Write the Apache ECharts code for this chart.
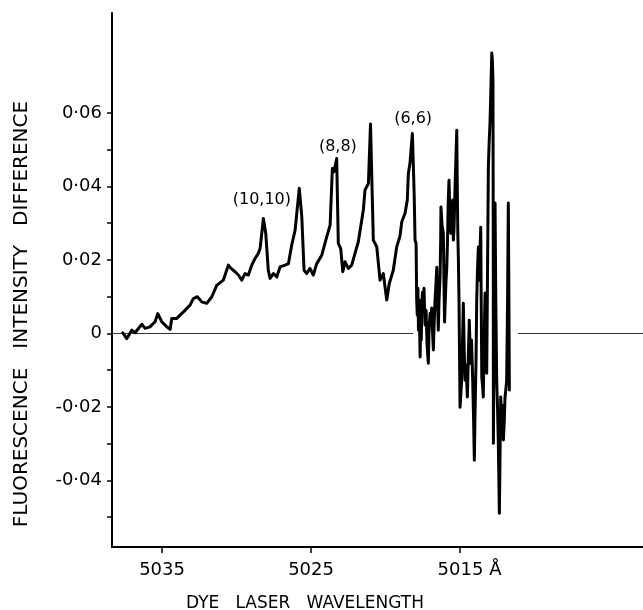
<!DOCTYPE html>
<html>
<head>
<meta charset="utf-8">
<script src="https://cdn.jsdelivr.net/npm/echarts@6/dist/echarts.min.js"></script>
<style>
html,body{margin:0;padding:0;background:#fff;}
#chart{width:643px;height:610px;}
</style>
</head>
<body>
<div id="chart"></div>
<script>
// Dye laser wavelength (Å) of each trace point
const wavelength = [
  5037.64, 5037.37, 5037.03, 5036.81, 5036.36, 5036.14, 5035.81, 5035.47, 5035.29, 5035.02,
  5034.68, 5034.46, 5034.35, 5034.01, 5033.79, 5033.46, 5033.12, 5032.90, 5032.63, 5032.34,
  5032.00, 5031.66, 5031.33, 5030.89, 5030.55, 5030.37, 5030.10, 5029.88, 5029.65, 5029.43,
  5029.21, 5028.98, 5028.76, 5028.54, 5028.42, 5028.20, 5028.04, 5027.87, 5027.75, 5027.53,
  5027.30, 5027.08, 5026.74, 5026.52, 5026.30, 5026.07, 5025.79, 5025.62, 5025.47, 5025.29,
  5025.07, 5024.85, 5024.62, 5024.28, 5023.95, 5023.72, 5023.57, 5023.46, 5023.28, 5023.17,
  5023.01, 5022.87, 5022.72, 5022.50, 5022.27, 5022.05, 5021.83, 5021.49, 5021.38, 5021.15,
  5021.01, 5020.82, 5020.59, 5020.37, 5020.15, 5019.92, 5019.75, 5019.48, 5019.25, 5019.03,
  5018.91, 5018.69, 5018.54, 5018.47, 5018.36, 5018.20, 5018.13, 5018.07, 5018.02, 5017.95,
  5017.91, 5017.87, 5017.83, 5017.79, 5017.74, 5017.68, 5017.64, 5017.60, 5017.57, 5017.52,
  5017.46, 5017.42, 5017.35, 5017.28, 5017.21, 5017.13, 5017.08, 5017.01, 5016.96, 5016.90,
  5016.85, 5016.79, 5016.74, 5016.68, 5016.62, 5016.56, 5016.51, 5016.46, 5016.41, 5016.34,
  5016.30, 5016.28, 5016.21, 5016.12, 5016.07, 5016.04, 5015.99, 5015.94, 5015.89, 5015.84,
  5015.79, 5015.74, 5015.68, 5015.62, 5015.57, 5015.49, 5015.45, 5015.40, 5015.34, 5015.28,
  5015.22, 5015.19, 5015.15, 5015.11, 5015.07, 5015.03, 5015.00, 5014.95, 5014.89, 5014.83,
  5014.78, 5014.72, 5014.66, 5014.60, 5014.51, 5014.44, 5014.38, 5014.33, 5014.28, 5014.23,
  5014.15, 5014.09, 5014.04, 5013.99, 5013.93, 5013.88, 5013.83, 5013.77, 5013.71, 5013.66,
  5013.61, 5013.58, 5013.54, 5013.49, 5013.44, 5013.38, 5013.32, 5013.27, 5013.21, 5013.17,
  5013.10, 5013.04, 5012.99, 5012.93, 5012.87, 5012.83, 5012.79, 5012.77, 5012.76, 5012.72,
  5012.65, 5012.60, 5012.54, 5012.48, 5012.43, 5012.36, 5012.32, 5012.27, 5012.21, 5012.16,
  5012.09, 5012.03, 5011.98, 5011.93, 5011.87, 5011.81, 5011.76, 5011.72, 5011.69
];
// Fluorescence intensity difference at each point
const intensity = [
  0.0002, -0.0014, 0.0009, 0.0002, 0.0025, 0.0014, 0.0018, 0.0032, 0.0054, 0.0032,
  0.0018, 0.0011, 0.0041, 0.0041, 0.0050, 0.0063, 0.0077, 0.0095, 0.0100, 0.0086,
  0.0082, 0.0100, 0.0131, 0.0145, 0.0186, 0.0177, 0.0168, 0.0159, 0.0145, 0.0163,
  0.0159, 0.0186, 0.0204, 0.0218, 0.0231, 0.0313, 0.0272, 0.0172, 0.0150, 0.0163,
  0.0154, 0.0181, 0.0186, 0.0190, 0.0240, 0.0281, 0.0395, 0.0317, 0.0172, 0.0163,
  0.0177, 0.0159, 0.0190, 0.0213, 0.0263, 0.0295, 0.0449, 0.0440, 0.0476, 0.0245,
  0.0231, 0.0168, 0.0195, 0.0177, 0.0186, 0.0218, 0.0249, 0.0336, 0.0390, 0.0408,
  0.0570, 0.0254, 0.0236, 0.0145, 0.0163, 0.0091, 0.0136, 0.0172, 0.0236, 0.0265,
  0.0304, 0.0327, 0.0363, 0.0435, 0.0463, 0.0544, 0.0453, 0.0363, 0.0254, 0.0245,
  0.0091, 0.0050, 0.0123, 0.0009, 0.0091, -0.0064, 0.0036, -0.0018, 0.0077, 0.0112,
  0.0091, 0.0123, 0.0023, 0.0063, -0.0032, -0.0081, 0.0009, 0.0055, 0.0031, 0.0069,
  0.0009, -0.0045, 0.0023, 0.0091, 0.0131, 0.0180, 0.0091, 0.0009, 0.0091, 0.0153,
  0.0254, 0.0344, 0.0295, 0.0273, 0.0118, 0.0031, 0.0091, 0.0145, 0.0180, 0.0254,
  0.0363, 0.0417, 0.0322, 0.0273, 0.0336, 0.0363, 0.0254, 0.0289, 0.0390, 0.0472,
  0.0553, 0.0417, 0.0273, 0.0199, 0.0091, -0.0073, -0.0201, -0.0168, -0.0127, -0.0018,
  0.0082, -0.0045, -0.0127, -0.0086, -0.0173, -0.0059, 0.0036, -0.0032, -0.0081, -0.0018,
  -0.0127, -0.0236, -0.0345, -0.0209, -0.0081, 0.0091, 0.0172, 0.0235, 0.0145, 0.0227,
  0.0289, 0.0091, -0.0119, -0.0141, -0.0173, -0.0018, 0.0110, 0.0036, -0.0108, 0.0091,
  0.0453, 0.0526, 0.0572, 0.0662, 0.0763, 0.0744, 0.0689, 0.0227, -0.0299, 0.0009,
  0.0355, 0.0091, -0.0127, -0.0209, -0.0299, -0.0489, -0.0345, -0.0173, -0.0236, -0.0195,
  -0.0290, -0.0236, -0.0173, -0.0154, -0.0127, 0.0091, 0.0355, 0.0091, -0.0154
];
// Zero baseline segments (wavelength ends)
const zeroLeft = [5038.36, 5018.15];
const zeroRight = [5011.11, 5002.72];
// Axis ticks
const xTicks = [5035, 5025, 5015];
const yTicks = [-0.05, -0.04, -0.03, -0.02, -0.01, 0, 0.01, 0.02, 0.03, 0.04, 0.05, 0.06];
const yLabels = [-0.04, -0.02, 0, 0.02, 0.04, 0.06];
// Peak annotations
const annotNames = ['(10,10)', '(8,8)', '(6,6)'];
const annotWave = [5028.3, 5023.2, 5018.15];
const annotValue = [0.0363, 0.0507, 0.0583];

const FONT = 'DejaVu Sans';
const chart = echarts.init(document.getElementById('chart'), null, {renderer: 'canvas'});

function yFmt(v) {
  if (Math.abs(v) < 1e-9) return '0';
  const n = Math.round(Math.abs(v) * 100);
  return (v < 0 ? '-' : '') + '0·' + (n < 10 ? '0' + n : '' + n);
}

const option = {
  animation: false,
  backgroundColor: '#ffffff',
  grid: {left: 112, right: 0, top: 13, bottom: 63},
  xAxis: {
    type: 'value',
    inverse: true,
    min: zeroRight[1],
    max: zeroLeft[0],
    splitLine: {show: false},
    axisLine: {show: true, onZero: false, lineStyle: {color: '#000', width: 2}},
    axisTick: {show: true, customValues: xTicks, length: 6, inside: false, lineStyle: {color: '#000', width: 1.5}},
    axisLabel: {
      show: true, customValues: xTicks, margin: 14, color: '#000',
      fontFamily: FONT, fontSize: 18,
      formatter: function (v) { return Math.round(v) === 5015 ? '{pad| }5015 Å' : String(Math.round(v)); },
      rich: {pad: {width: 19, fontFamily: FONT, fontSize: 18}}
    }
  },
  yAxis: {
    type: 'value',
    min: -0.0581,
    max: 0.0872,
    splitLine: {show: false},
    axisLine: {show: true, onZero: false, lineStyle: {color: '#000', width: 2}},
    axisTick: {show: true, customValues: yTicks, length: 5, inside: false, lineStyle: {color: '#000', width: 1.5}},
    axisLabel: {
      show: true, customValues: yLabels, margin: 10, color: '#000',
      fontFamily: FONT, fontSize: 18, formatter: yFmt
    }
  },
  graphic: [
    {
      type: 'text', x: 305, y: 604, silent: true,
      style: {text: 'DYE   LASER   WAVELENGTH', fontFamily: FONT, fontSize: 17, fill: '#000',
              align: 'center', verticalAlign: 'middle'}
    },
    {
      type: 'text', x: 22, y: 314, rotation: Math.PI / 2, silent: true,
      style: {text: 'FLUORESCENCE   INTENSITY   DIFFERENCE', fontFamily: FONT, fontSize: 20, fill: '#000',
              align: 'center', verticalAlign: 'middle'}
    }
  ],
  series: [
    {
      type: 'line', showSymbol: false, silent: true,
      data: zeroLeft.map(function (w) { return [w, 0]; }),
      lineStyle: {color: '#333', width: 1}
    },
    {
      type: 'line', showSymbol: false, silent: true,
      data: zeroRight.map(function (w) { return [w, 0]; }),
      lineStyle: {color: '#333', width: 1}
    },
    {
      type: 'line', showSymbol: false, silent: true,
      data: wavelength.map(function (w, i) { return [w, intensity[i]]; }),
      lineStyle: {color: '#000', width: 3, join: 'round', cap: 'round'}
    },
    {
      type: 'scatter', symbolSize: 0, silent: true,
      itemStyle: {opacity: 1, color: '#000'},
      data: annotWave.map(function (w, i) { return {name: annotNames[i], value: [w, annotValue[i]]}; }),
      label: {show: true, position: 'inside', formatter: '{b}', color: '#000', opacity: 1,
              textBorderWidth: 0, fontFamily: FONT, fontSize: 16}
    }
  ]
};
chart.setOption(option);
</script>
</body>
</html>
